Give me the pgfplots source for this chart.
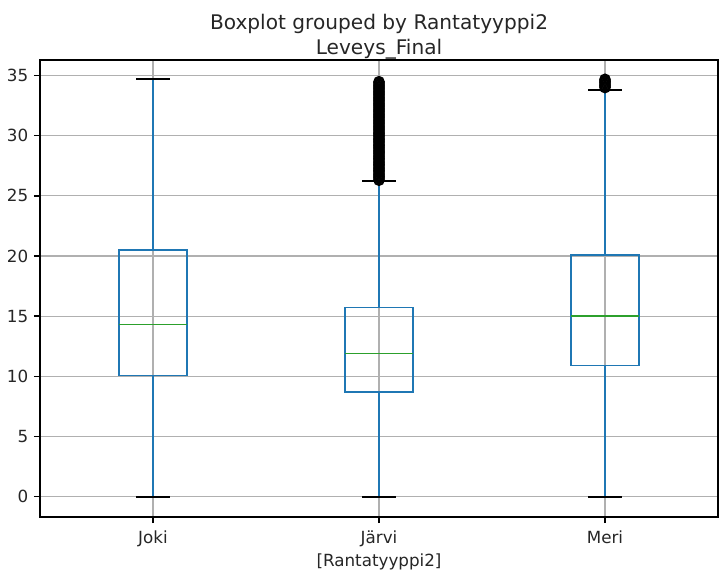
\documentclass[border=0pt]{standalone}
\usepackage{pgfplots}
\pgfplotsset{compat=1.18}
\usepgfplotslibrary{statistics}
\usepackage{fontspec}
\setmainfont{DejaVu Sans}
\definecolor{mplblue}{HTML}{1F77B4}
\definecolor{mplgreen}{HTML}{2CA02C}
\definecolor{mplgrid}{HTML}{B0B0B0}
\definecolor{mpltext}{HTML}{262626}
\begin{document}
\fontsize{16.8}{20}\selectfont
\begin{tikzpicture}
\useasboundingbox (-40bp,-56bp) rectangle (679bp,517bp);
\begin{axis}[
  at={(0,0)}, anchor=south west,
  scale only axis, width=678bp, height=457bp,
  xmin=0.5, xmax=3.5, ymin=-1.7, ymax=36.3,
  xtick={1,2,3}, xticklabels={Joki,Järvi,Meri},
  ytick={0,5,...,35},
  grid=major, major grid style={mplgrid, line width=1.1bp},
  axis line style={line width=1.35bp},
  tick style={black, line width=1.35bp},
  tick align=outside, major tick length=6bp,
  tick pos=left,
  ticklabel style={font=\fontsize{16.8}{20}\selectfont, text=mpltext},
  xticklabel style={yshift=-2bp},
  /pgf/number format/assume math mode=true,
  xlabel={[Rantatyyppi2]},
  xlabel style={font=\fontsize{16.8}{20}\selectfont, text=mpltext, yshift=4bp},
  boxplot/draw direction=y,
  boxplot/box extend=0.3,
  boxplot/whisker extend=0.15,
  boxplot/draw/lower whisker/.code={%
    \draw[mplblue, line width=1.5bp]
      (boxplot box cs:\pgfplotsboxplotvalue{lower quartile},0.5) --
      (boxplot box cs:\pgfplotsboxplotvalue{lower whisker},0.5);
    \draw[black, line width=2bp]
      (boxplot whisker cs:\pgfplotsboxplotvalue{lower whisker},0) --
      (boxplot whisker cs:\pgfplotsboxplotvalue{lower whisker},1);
  },
  boxplot/draw/upper whisker/.code={%
    \draw[mplblue, line width=1.5bp]
      (boxplot box cs:\pgfplotsboxplotvalue{upper quartile},0.5) --
      (boxplot box cs:\pgfplotsboxplotvalue{upper whisker},0.5);
    \draw[black, line width=2bp]
      (boxplot whisker cs:\pgfplotsboxplotvalue{upper whisker},0) --
      (boxplot whisker cs:\pgfplotsboxplotvalue{upper whisker},1);
  },
  boxplot/every median/.style={mplgreen, line width=1.8bp},
  boxplot/every box/.style={mplblue, line width=1.5bp},
]
\addplot+[mplblue, solid, mark=o, mark size=5bp, mark options={black, solid, fill=none, line width=1.5bp},
  boxplot prepared={draw position=1, lower whisker=0, lower quartile=10.05,
    median=14.3, upper quartile=20.5, upper whisker=34.7}]
  coordinates {};
\addplot+[mplblue, solid, mark=o, mark size=5bp, mark options={black, solid, fill=none, line width=1.5bp},
  boxplot prepared={draw position=2, lower whisker=0, lower quartile=8.7,
    median=11.9, upper quartile=15.7, upper whisker=26.2}]
  coordinates {(0,26.3) (0,26.4) (0,26.5) (0,26.6) (0,26.7) (0,26.8) (0,26.9)
  (0,27.0) (0,27.1) (0,27.2) (0,27.3) (0,27.4) (0,27.5) (0,27.6) (0,27.7) (0,27.8) (0,27.9)
  (0,28.0) (0,28.1) (0,28.2) (0,28.3) (0,28.4) (0,28.5) (0,28.6) (0,28.7) (0,28.8) (0,28.9)
  (0,29.0) (0,29.1) (0,29.2) (0,29.3) (0,29.4) (0,29.5) (0,29.6) (0,29.7) (0,29.8) (0,29.9)
  (0,30.0) (0,30.1) (0,30.2) (0,30.3) (0,30.4) (0,30.5) (0,30.6) (0,30.7) (0,30.8) (0,30.9)
  (0,31.0) (0,31.1) (0,31.2) (0,31.3) (0,31.4) (0,31.5) (0,31.6) (0,31.7) (0,31.8) (0,31.9)
  (0,32.0) (0,32.1) (0,32.2) (0,32.3) (0,32.4) (0,32.5) (0,32.6) (0,32.7) (0,32.8) (0,32.9)
  (0,33.0) (0,33.1) (0,33.2) (0,33.3) (0,33.4) (0,33.5) (0,33.6) (0,33.7) (0,33.8) (0,33.9)
  (0,34.0) (0,34.1) (0,34.2) (0,34.3) (0,34.4) (0,34.5)};
\addplot+[mplblue, solid, mark=o, mark size=5bp, mark options={black, solid, fill=none, line width=1.5bp},
  boxplot prepared={draw position=3, lower whisker=0, lower quartile=10.9,
    median=15.0, upper quartile=20.1, upper whisker=33.8}]
  coordinates {(0,34.0) (0,34.1) (0,34.2) (0,34.3) (0,34.4) (0,34.5) (0,34.6) (0,34.7)};
\end{axis}
\node[anchor=base, text=mpltext, font=\fontsize{20.2}{24}\selectfont] at (339bp,487bp) {Boxplot grouped by Rantatyyppi2};
\node[anchor=base, text=mpltext, font=\fontsize{20.2}{24}\selectfont] at (339bp,462bp) {Leveys\_Final};
\end{tikzpicture}
\end{document}
